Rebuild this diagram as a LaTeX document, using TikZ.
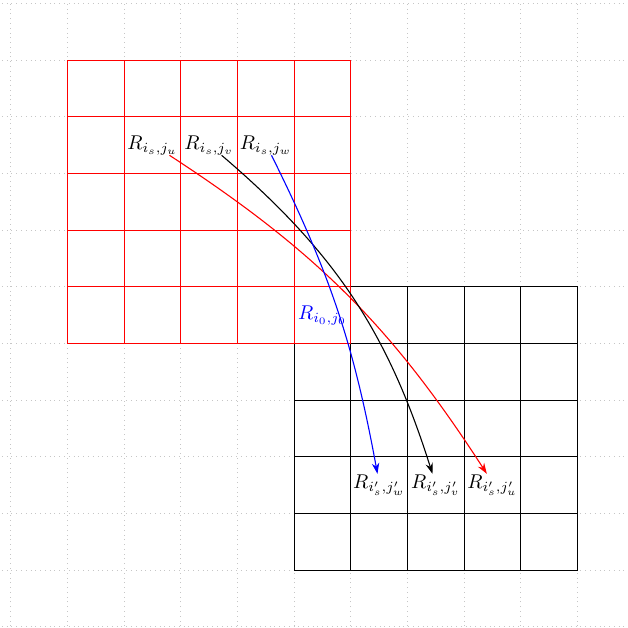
\documentclass[tikz,border=0pt]{standalone}
\usetikzlibrary{arrows.meta}
\begin{document}
\begin{tikzpicture}[
  lbl/.style={inner sep=0.5pt},
  gridline/.style={line width=0.55pt},
  conn/.style={-{Stealth[length=1.9mm,width=1.3mm]}, line width=0.55pt},
]
\useasboundingbox (-0.19,-0.02) rectangle (10.88,11.06);
\draw[dotted, gray!45] (-1,-1) grid (12,11);
\draw[gridline, black] (5,1) grid (10,6);
\node[lbl, text=blue] (c0) at (5.5,5.5) {$R_{i_0,j_0}$};
\draw[gridline, red] (1,5) grid (6,10);
\node[lbl] (su) at (2.5,8.5) {$R_{i_s,j_u}$};
\node[lbl] (sv) at (3.5,8.5) {$R_{i_s,j_v}$};
\node[lbl] (sw) at (4.5,8.5) {$R_{i_s,j_w}$};
\node[lbl] (tw) at (6.5,2.5) {$R_{i'_s,j'_w}$};
\node[lbl] (tv) at (7.5,2.5) {$R_{i'_s,j'_v}$};
\node[lbl] (tu) at (8.5,2.5) {$R_{i'_s,j'_u}$};
\coordinate (au) at (2.8,8.32);
\coordinate (av) at (3.72,8.32);
\coordinate (aw) at (4.6,8.32);
\coordinate (bu) at (8.4,2.7);
\coordinate (bv) at (7.44,2.7);
\coordinate (bw) at (6.47,2.7);
\draw[conn, red] (au) to[bend left=12] (bu);
\draw[conn, black] (av) to[bend left=16] (bv);
\draw[conn, blue] (aw) to[bend left=8] (bw);
\end{tikzpicture}
\end{document}
